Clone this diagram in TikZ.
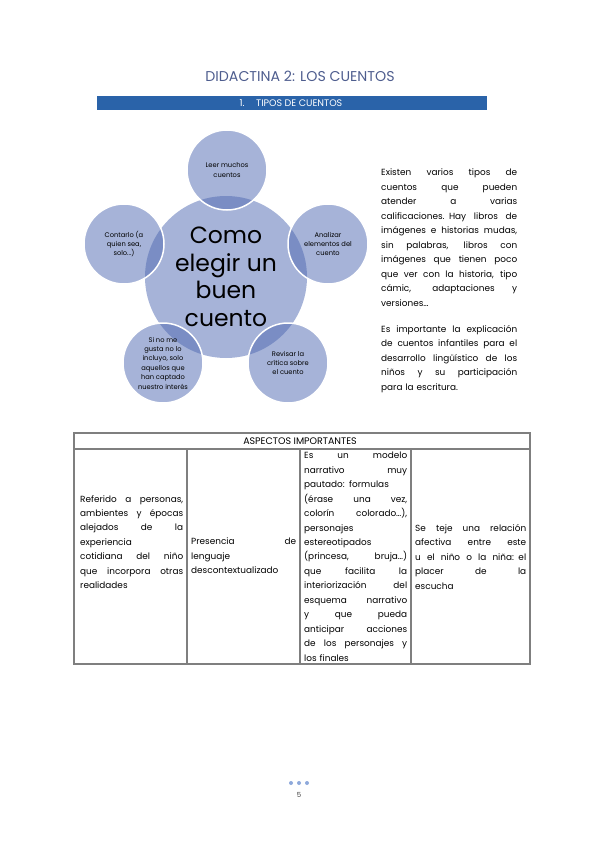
\documentclass[tikz,border=0pt]{standalone}
\usepackage{fontspec}
\setmainfont{Poppins}
\usepackage{xcolor}
\definecolor{titlecol}{HTML}{4E5D8E}
\definecolor{barcol}{HTML}{2A63A9}
\definecolor{bubcol}{HTML}{506AB2}
\definecolor{hubcol}{HTML}{A6B3D8}
\definecolor{gridcol}{HTML}{7F7F7F}
\definecolor{dotcol}{HTML}{8EA9DB}
\newlength{\jw}
\newcommand{\jl}[1]{\leavevmode\hbox to\jw{\spaceskip=.3em plus 1fil\relax#1}\par}
\newcommand{\txtfont}{\fontsize{8.9}{14.45}\selectfont}

\begin{document}
\begin{tikzpicture}[x=1pt, y=-1pt,
  hub/.style={circle, fill=hubcol, minimum size=162pt, inner sep=0pt, align=center, font=\fontsize{23.5}{27.5}\selectfont},
  bubble/.style={circle, fill=bubcol, fill opacity=0.51, text opacity=1, draw=white, draw opacity=1, line width=1.5pt, minimum size=80pt, inner sep=0pt, align=center, font=\fontsize{6.7}{9.4}\selectfont},
  para/.style={anchor=north west, inner sep=0pt, text width=136pt, font=\txtfont},
  cell/.style={anchor=north west, inner sep=0pt, font=\txtfont},
  grid/.style={draw=gridcol, line width=1.2pt}
]
  \useasboundingbox (0,0) rectangle (600,848);

  \node[text=titlecol, font=\fontsize{14.2}{16}\selectfont] (title) at (300,76) {DIDACTINA 2: LOS CUENTOS};
  \fill[barcol] (97,96) rectangle (487,110);
  \node[text=white, font=\fontsize{9.5}{10}\selectfont] (sect) at (291,103) {1.\hspace{1.2em}TIPOS DE CUENTOS};

  \node[hub] (hub) at (226,277) {Como\\elegir un\\buen\\cuento};
  \node[bubble] (leer)     at (227,170) {Leer muchos\\cuentos};
  \node[bubble] (analizar) at (328,244) {Analizar\\elementos del\\cuento};
  \node[bubble] (revisar)  at (288,363) {Revisar la\\crítica sobre\\el cuento};
  \node[bubble] (gusta)    at (163,363) {Si no me\\gusta no lo\\incluyo, solo\\aquellos que\\han captado\\nuestro interés};
  \node[bubble] (contar)   at (124,244) {Contarlo (a\\quien sea,\\solo...)};

  \node[para] (tipos) at (381,169) {\setlength{\jw}{136pt}%
    \jl{Existen varios tipos de}
    \jl{cuentos que pueden}
    \jl{atender a varias}
    \jl{calificaciones. Hay libros de}
    \jl{imágenes e historias mudas,}
    \jl{sin palabras, libros con}
    \jl{imágenes que tienen poco}
    \jl{que ver con la historia, tipo}
    \jl{cámic, adaptaciones y}
    versiones…};
  \node[para] (explica) at (381,325) {\setlength{\jw}{136pt}%
    \jl{Es importante la explicación}
    \jl{de cuentos infantiles para el}
    \jl{desarrollo lingüístico de los}
    \jl{niños y su participación}
    para la escritura.};

  \draw[grid] (74,433) rectangle (530,664);
  \draw[grid] (74,449) -- (530,449);
  \foreach \xc in {187,300,411}
    \draw[grid] (\xc,449) -- (\xc,664);
  \node[font=\fontsize{9.5}{10}\selectfont] (aspectos) at (300,441) {ASPECTOS IMPORTANTES};

  \node[cell, text width=103pt] (referido) at (80,495) {\setlength{\jw}{103pt}%
    \jl{Referido a personas,}
    \jl{ambientes y épocas}
    \jl{alejados de la}
    \jl{experiencia}
    \jl{cotidiana del niño}
    \jl{que incorpora otras}
    realidades};
  \node[cell, text width=105pt] (presencia) at (191,538) {\setlength{\jw}{105pt}%
    \jl{Presencia de}
    \jl{lenguaje}
    descontextualizado};
  \node[cell, text width=103pt] (modelo) at (304,452) {\setlength{\jw}{103pt}%
    \jl{Es un modelo}
    \jl{narrativo muy}
    \jl{pautado: formulas}
    \jl{(érase una vez,}
    \jl{colorín colorado…),}
    \jl{personajes}
    \jl{estereotipados}
    \jl{(princesa, bruja…)}
    \jl{que facilita la}
    \jl{interiorización del}
    \jl{esquema narrativo}
    \jl{y que pueda}
    \jl{anticipar acciones}
    \jl{de los personajes y}
    los finales};
  \node[cell, text width=111pt] (relacion) at (415,524) {\setlength{\jw}{111pt}%
    \jl{Se teje una relación}
    \jl{afectiva entre este}
    \jl{u el niño o la niña: el}
    \jl{placer de la}
    escucha};

  \foreach \xd in {291,299,307}
    \fill[dotcol] (\xd,783) circle[radius=2pt];
  \node[text=black!75, font=\fontsize{7}{8}\selectfont] (pagina) at (299,795) {5};
\end{tikzpicture}
\end{document}
